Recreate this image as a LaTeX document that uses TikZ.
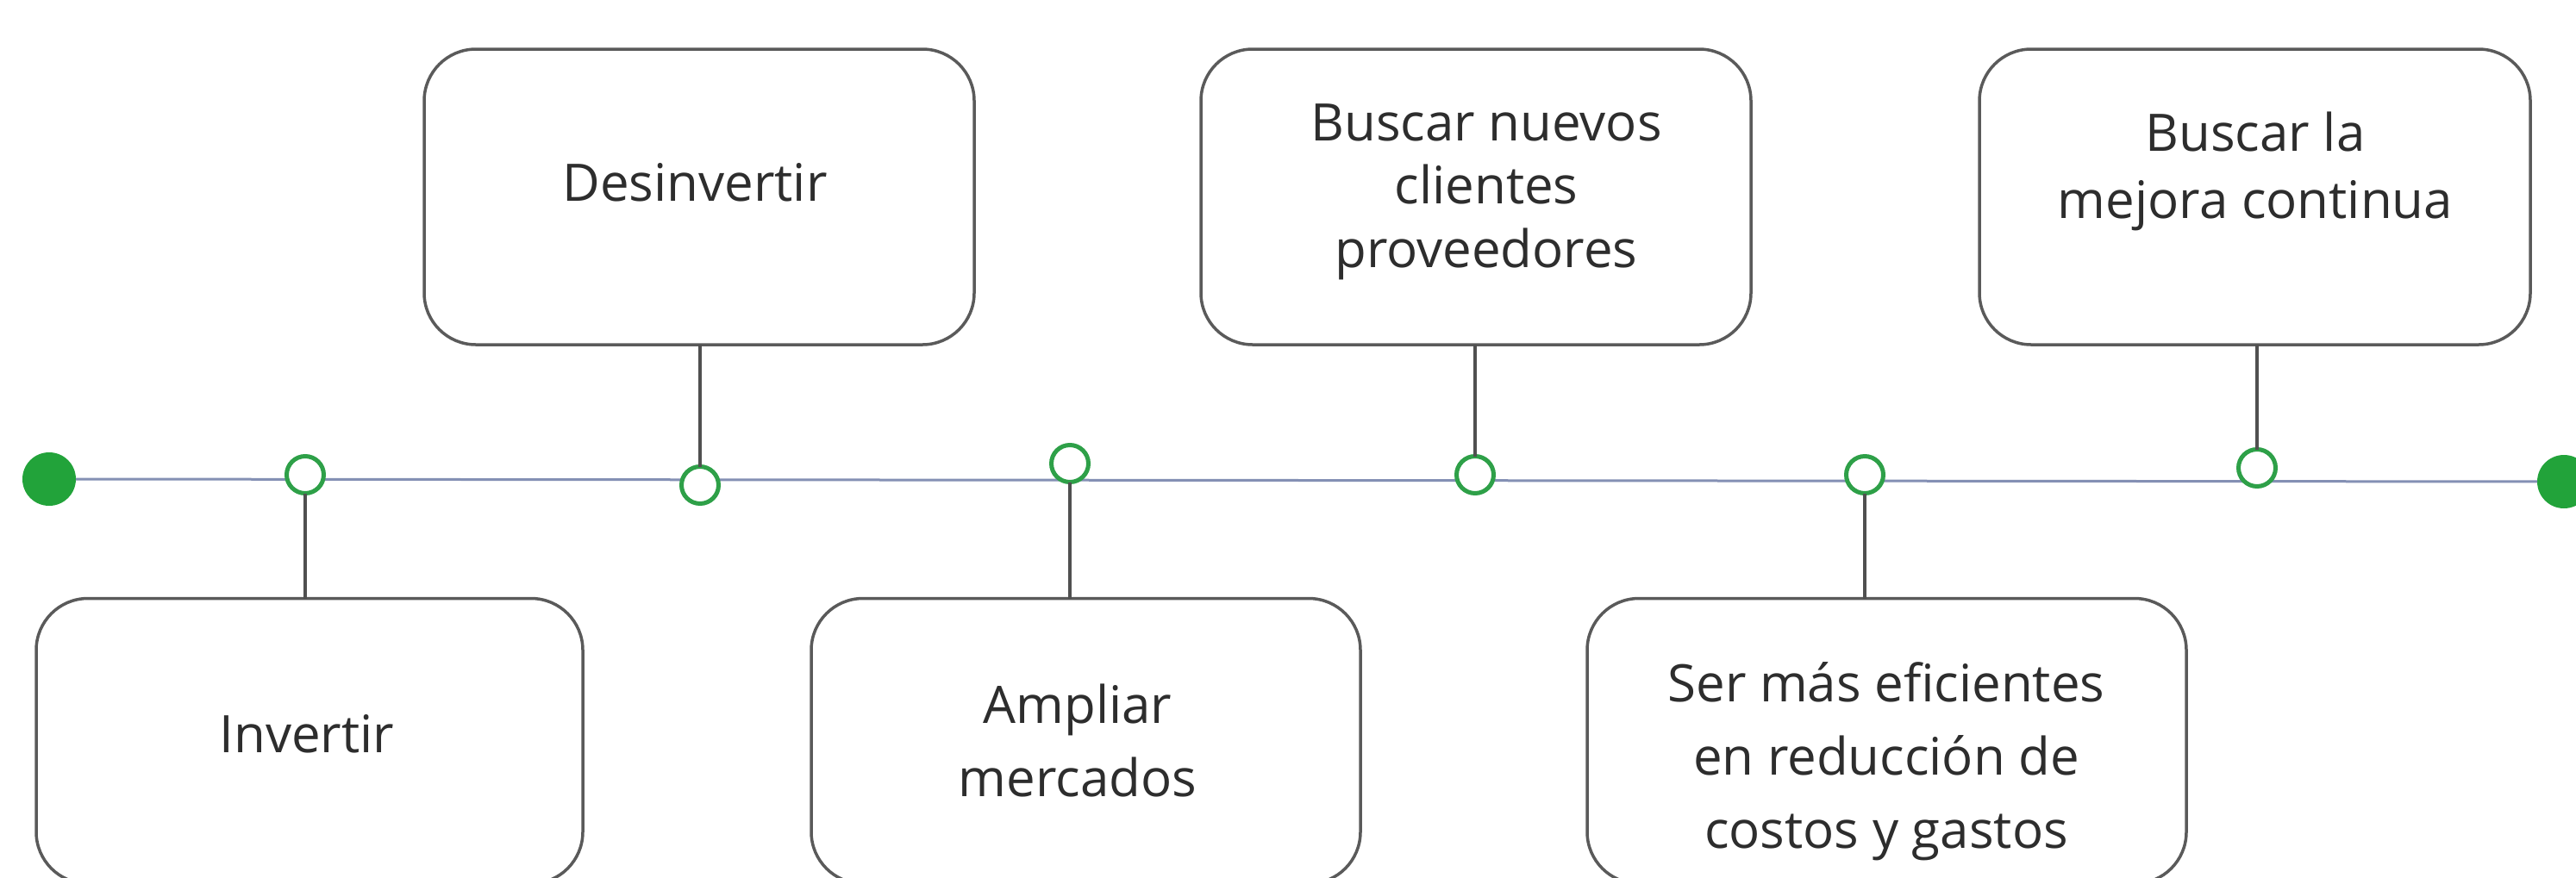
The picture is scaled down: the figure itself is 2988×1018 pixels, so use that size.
\documentclass[tikz,border=0pt]{standalone}
\usepackage{fontspec}
\setmainfont{Open Sans}
\definecolor{boxc}{RGB}{90,90,90}
\definecolor{connc}{RGB}{80,80,80}
\definecolor{txtc}{RGB}{45,45,45}
\definecolor{ringc}{RGB}{46,160,72}
\definecolor{dotc}{RGB}{34,163,58}
\definecolor{linec}{RGB}{132,144,180}
\begin{document}
\begin{tikzpicture}[x=1pt,y=-1pt,
  box/.style={draw=boxc, line width=3.5pt, rounded corners=60pt, fill=white, inner sep=0pt, outer sep=0pt},
  lbl/.style={text=txtc, align=center, inner sep=0pt, outer sep=0pt},
  ring/.style={circle, draw=ringc, line width=5pt, fill=white, minimum size=43pt, inner sep=0pt, outer sep=0pt},
  enddot/.style={circle, fill=dotc, minimum size=62pt, inner sep=0pt, outer sep=0pt},
  tline/.style={draw=linec, line width=3pt},
  conn/.style={draw=connc, line width=3.5pt}]
\fill[white] (0,0) rectangle (2988,1018);
\useasboundingbox (0,0) rectangle (2988,1018);
\clip (0,0) rectangle (2988,1018);
% end dots
\node[enddot] (dl) at (57,556) {};
\node[enddot] (dr) at (2974,559) {};
\draw[tline] (dl) -- (dr);
% rings
\node[ring] (c1) at (354,551) {};
\node[ring] (c2) at (812,563) {};
\node[ring] (c3) at (1241,538) {};
\node[ring] (c4) at (1711,551) {};
\node[ring] (c5) at (2163,551) {};
\node[ring] (c6) at (2618,543) {};
% boxes
\node[box, minimum width=634pt, minimum height=331pt] (b1) at (359,860) {};
\node[box, minimum width=638pt, minimum height=343pt] (b2) at (811,228.5) {};
\node[box, minimum width=637pt, minimum height=331pt] (b3) at (1259.5,860) {};
\node[box, minimum width=638pt, minimum height=343pt] (b4) at (1712,228.5) {};
\node[box, minimum width=695pt, minimum height=331pt] (b5) at (2188.5,860) {};
\node[box, minimum width=639pt, minimum height=343pt] (b6) at (2615.5,228.5) {};
% connectors
\draw[conn] (c1.south) -- (c1.south |- b1.north);
\draw[conn] (c2.north) -- (c2.north |- b2.south);
\draw[conn] (c3.south) -- (c3.south |- b3.north);
\draw[conn] (c4.north) -- (c4.north |- b4.south);
\draw[conn] (c5.south) -- (c5.south |- b5.north);
\draw[conn] (c6.north) -- (c6.north |- b6.south);
% labels
\node[lbl, anchor=base, font=\fontsize{60}{73.5}\selectfont] (t1) at (356,873) {Invertir};
\node[lbl, anchor=base, font=\fontsize{60}{73.5}\selectfont] (t2) at (806,233) {Desinvertir};
\node[lbl, font=\fontsize{60}{85}\selectfont] (t3) at (1250,859.5) {Ampliar\\mercados};
\node[lbl, font=\fontsize{60}{73.5}\selectfont] (t4) at (1724,222.5) {Buscar nuevos\\clientes\\proveedores};
\node[lbl, font=\fontsize{60}{85}\selectfont] (t5) at (2188,884) {Ser más eficientes\\en reducción de\\costos y gastos};
\node[lbl, font=\fontsize{60}{78}\selectfont] (t6) at (2616,199) {Buscar la\\mejora continua};
\end{tikzpicture}
\end{document}
